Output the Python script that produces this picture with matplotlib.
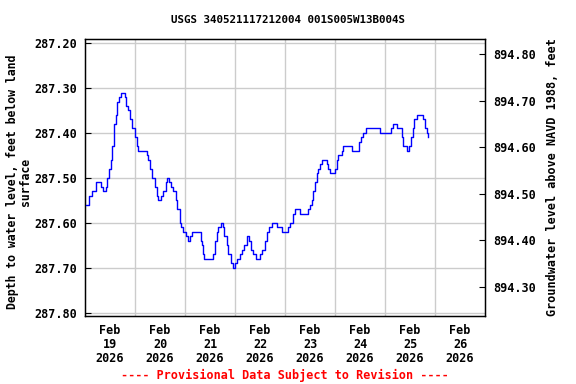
import pandas as pd
import matplotlib
matplotlib.use("Agg")
import matplotlib.pyplot as plt
import matplotlib.dates as mdates
from matplotlib.ticker import FixedLocator

# hours since 2026-02-19 00:00 and depth to water (ft below land surface)
hours = [0.3, 1.9, 3.5, 5.1, 7.8, 8.6, 9.9, 10.7, 11.5, 12.3,
         13.1, 13.9, 14.7, 15.5, 16.3, 17.1, 19.1, 19.8, 20.6, 21.5,
         22.7, 23.9, 24.8, 25.6, 29.6, 30.4, 31.2, 32.3, 33.5, 34.4,
         35.0, 36.3, 37.6, 38.7, 39.5, 40.3, 41.4, 42.4, 43.5, 44.3,
         45.6, 46.1, 47.2, 48.5, 49.6, 50.4, 51.5, 55.5, 56.0, 56.8,
         57.3, 61.6, 62.4, 63.2, 64.0, 65.1, 66.1, 66.9, 68.0, 68.8,
         69.9, 71.2, 72.0, 73.1, 74.4, 75.5, 76.5, 77.6, 78.7, 79.7,
         80.8, 81.9, 84.0, 85.1, 86.4, 87.5, 88.5, 89.6, 92.3, 94.4,
         97.4, 98.4, 99.7, 100.8, 103.2, 107.2, 108.0, 108.8, 109.6, 110.4,
         111.2, 112.0, 112.8, 113.6, 116.0, 116.8, 117.6, 120.0, 120.8, 121.6,
         123.2, 124.0, 128.0, 131.5, 132.5, 133.3, 134.7, 141.6, 146.9, 147.7,
         149.9, 152.0, 152.8, 154.7, 155.5, 156.5, 157.3, 158.1, 159.2, 162.4,
         163.2, 164.0, 164.8]
depth = [287.56, 287.54, 287.53, 287.51, 287.52, 287.53, 287.52, 287.50, 287.48, 287.46,
         287.43, 287.38, 287.36, 287.33, 287.32, 287.31, 287.32, 287.34, 287.35, 287.37,
         287.39, 287.41, 287.43, 287.44, 287.45, 287.46, 287.48, 287.50, 287.52, 287.54,
         287.55, 287.54, 287.53, 287.51, 287.50, 287.51, 287.52, 287.53, 287.55, 287.57,
         287.60, 287.61, 287.62, 287.63, 287.64, 287.63, 287.62, 287.64, 287.65, 287.67,
         287.68, 287.67, 287.64, 287.62, 287.61, 287.60, 287.61, 287.63, 287.65, 287.67,
         287.69, 287.70, 287.69, 287.68, 287.67, 287.66, 287.65, 287.63, 287.64, 287.66,
         287.67, 287.68, 287.67, 287.66, 287.64, 287.62, 287.61, 287.60, 287.61, 287.62,
         287.61, 287.60, 287.58, 287.57, 287.58, 287.57, 287.56, 287.55, 287.53, 287.51,
         287.49, 287.48, 287.47, 287.46, 287.47, 287.48, 287.49, 287.48, 287.46, 287.45,
         287.44, 287.43, 287.44, 287.42, 287.41, 287.40, 287.39, 287.40, 287.39, 287.38,
         287.39, 287.41, 287.43, 287.44, 287.43, 287.41, 287.39, 287.37, 287.36, 287.37,
         287.39, 287.40, 287.41]

left_ticks = [287.20, 287.30, 287.40, 287.50, 287.60, 287.70, 287.80]
right_ticks = [894.80, 894.70, 894.60, 894.50, 894.40, 894.30]

title = "USGS 340521117212004 001S005W13B004S"
start = pd.Timestamp("2026-02-19")
times = start + pd.to_timedelta(hours, unit="h")

font = dict(family="DejaVu Sans Mono", fontweight="bold")
fs = 8.5

fig = plt.figure(figsize=(5.76, 3.84), dpi=100)
ax = fig.add_axes([85 / 576, 1 - 316 / 384, 400 / 576, 277 / 384])

ax.plot(times, depth, color="#0000ff", lw=1.0, drawstyle="steps-post", zorder=3)

ax.set_xlim(start, start + pd.Timedelta(days=8))
ax.set_ylim(287.8067, 287.1911)

# grid at midnight, labels at noon
days = [start + pd.Timedelta(days=i) for i in range(1, 8)]
noons = [start + pd.Timedelta(days=i, hours=12) for i in range(8)]
ax.xaxis.set_major_locator(FixedLocator(mdates.date2num(days)))
ax.xaxis.set_minor_locator(FixedLocator(mdates.date2num(noons)))
ax.xaxis.set_major_formatter(plt.NullFormatter())
ax.xaxis.set_minor_formatter(mdates.DateFormatter("%b\n%d\n%Y"))
ax.tick_params(axis="x", which="both", length=0, pad=6)
for lbl in ax.get_xticklabels(minor=True):
    lbl.set_fontfamily("DejaVu Sans Mono")
    lbl.set_fontweight("bold")
    lbl.set_fontsize(fs)
    lbl.set_linespacing(1.1)

ax.set_yticks(left_ticks)
ax.set_yticklabels([f"{v:.2f}" for v in left_ticks], **font, fontsize=fs)
ax.tick_params(axis="y", direction="in", length=4, pad=6)

ax.grid(True, which="major", color="#cccccc", lw=1.0, zorder=0)
for sp in ax.spines.values():
    sp.set_linewidth(1.0)

fig.text(19 / 576, 1 - 182 / 384, "Depth to water level, feet below land\nsurface",
         rotation=90, ha="center", va="center", **font, fontsize=8.3, linespacing=1.0)

ax2 = ax.twinx()
ax2.set_ylim(894.2378, 894.8322)
ax2.set_yticks(right_ticks)
ax2.set_yticklabels([f"{v:.2f}" for v in right_ticks], **font, fontsize=fs)
ax2.tick_params(axis="y", direction="in", length=4, pad=6)
ax2.set_ylabel("Groundwater level above NAVD 1988, feet", **font, fontsize=fs, labelpad=7)

fig.text(0.5, 1 - 20 / 384, title, ha="center", va="center", **font, fontsize=7.8)
fig.text(285 / 576, 1 - 375 / 384, "---- Provisional Data Subject to Revision ----",
         ha="center", va="center", color="red", **font, fontsize=fs)

fig.savefig("out.png", dpi=100)
